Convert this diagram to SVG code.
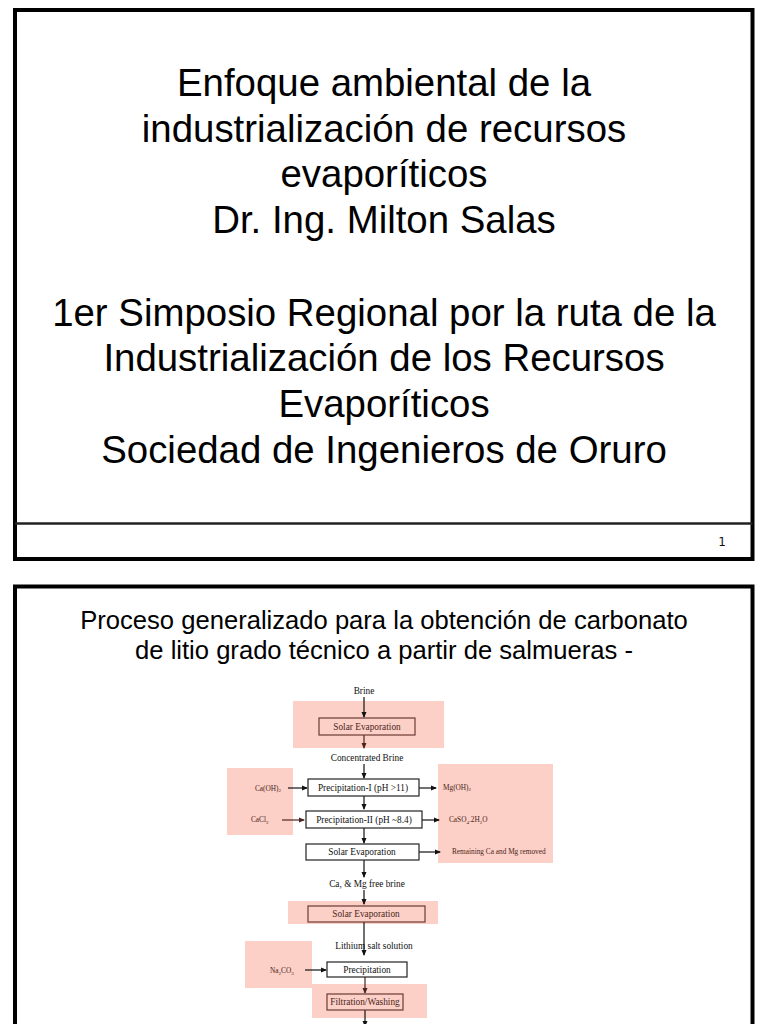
<svg xmlns="http://www.w3.org/2000/svg" width="768" height="1024" viewBox="0 0 768 1024">
<defs>
<marker id="ah" markerUnits="userSpaceOnUse" markerWidth="6" markerHeight="6" refX="5" refY="3" orient="auto"><path d="M0,0.5 L6,3 L0,5.5 Z" fill="#111"/></marker>
<marker id="ahb" markerUnits="userSpaceOnUse" markerWidth="6" markerHeight="6" refX="5" refY="3" orient="auto"><path d="M0,0.5 L6,3 L0,5.5 Z" fill="#4a2420"/></marker>
<style>
.frame{fill:#fff;stroke:#000;stroke-width:4}
.title{font-family:"Liberation Sans",Arial,sans-serif;font-size:38.4px;fill:#000;text-anchor:middle}
.t2{font-family:"Liberation Sans",Arial,sans-serif;font-size:25.6px;fill:#000;text-anchor:middle}
.pink{fill:#fcd0c6;stroke:none}
.box{fill:#fff;stroke:#222;stroke-width:1.2}
.bbox{fill:none;stroke:#6b3b35;stroke-width:1.2}
.ft{font-family:"Liberation Serif","Times New Roman",serif;font-size:9.3px;fill:#111;text-anchor:middle}
.fb{font-family:"Liberation Serif","Times New Roman",serif;font-size:9.3px;fill:#4a2420;text-anchor:middle}
.fs{font-family:"Liberation Serif","Times New Roman",serif;font-size:7.3px;fill:#4a2420}
.con{stroke:#111;stroke-width:1.2;fill:none;marker-end:url(#ah)}
.conb{stroke:#4a2420;stroke-width:1.2;fill:none;marker-end:url(#ahb)}
</style>
</defs>
<rect width="768" height="1024" fill="#fff"/>
<g id="slide1">
<rect class="frame" x="15" y="10" width="737.5" height="549"/>
<line x1="15" y1="523.5" x2="752.5" y2="523.5" stroke="#222" stroke-width="2.5"/>
<text class="title" x="384" y="96">Enfoque ambiental de la</text>
<text class="title" x="384" y="142">industrialización de recursos</text>
<text class="title" x="384" y="187">evaporíticos</text>
<text class="title" x="384" y="233">Dr. Ing. Milton Salas</text>
<text class="title" x="384" y="326">1er Simposio Regional por la ruta de la</text>
<text class="title" x="384" y="371">Industrialización de los Recursos</text>
<text class="title" x="384" y="417">Evaporíticos</text>
<text class="title" x="384" y="463">Sociedad de Ingenieros de Oruro</text>
<text x="722" y="546" font-family="'DejaVu Sans',sans-serif" font-size="12" text-anchor="middle" fill="#111">1</text>
</g>
<g id="slide2">
<rect class="frame" x="15" y="586.5" width="737.5" height="460"/>
<text class="t2" x="384" y="629">Proceso generalizado para la obtención de carbonato</text>
<text class="t2" x="384" y="659">de litio grado técnico a partir de salmueras -</text>
</g>
<g id="highlights">
<rect class="pink" x="293" y="701" width="151" height="47"/>
<rect class="pink" x="227" y="768" width="66" height="67"/>
<rect class="pink" x="438" y="764" width="115" height="99"/>
<rect class="pink" x="288" y="901" width="150" height="23"/>
<rect class="pink" x="245" y="941" width="67" height="47"/>
<rect class="pink" x="312" y="984" width="115" height="34"/>
</g>
<g id="connectors">
<line class="con" x1="364" y1="697" x2="364" y2="717"/>
<line class="conb" x1="364" y1="735" x2="364" y2="748"/>
<line class="con" x1="364" y1="764" x2="364" y2="778"/>
<line class="con" x1="288" y1="788" x2="307" y2="788"/>
<line class="con" x1="419" y1="788" x2="436" y2="788"/>
<line class="con" x1="364" y1="796" x2="364" y2="809"/>
<line class="conb" x1="282" y1="820" x2="304" y2="820"/>
<line class="con" x1="422" y1="820" x2="439" y2="820"/>
<line class="con" x1="364" y1="828" x2="364" y2="843"/>
<line class="con" x1="419" y1="852" x2="440" y2="852"/>
<line class="con" x1="364" y1="860" x2="364" y2="877"/>
<line class="con" x1="364" y1="890" x2="364" y2="904"/>
<line class="con" x1="364" y1="922" x2="364" y2="955"/>
<line class="con" x1="305" y1="970" x2="326" y2="970"/>
<line class="conb" x1="365" y1="977" x2="365" y2="993"/>
<line class="con" x1="365" y1="1010" x2="365" y2="1026"/>
</g>
<g id="brine"><text class="ft" x="364" y="694">Brine</text></g>
<g id="solar1"><rect class="bbox" x="319" y="718" width="96" height="17"/><text class="fb" x="367" y="729.5">Solar Evaporation</text></g>
<g id="conc"><text class="ft" x="367" y="761">Concentrated Brine</text></g>
<g id="caoh"><text class="fs" x="255" y="790.5">Ca(OH)<tspan font-size="5" dy="1.5">2</tspan></text></g>
<g id="prec1"><rect class="box" x="308" y="779" width="111" height="17"/><text class="ft" x="363" y="790.5">Precipitation-I (pH &gt;11)</text></g>
<g id="mgoh"><text class="fs" x="443" y="789.5">Mg(OH)<tspan font-size="5" dy="1.5">2</tspan></text></g>
<g id="cacl"><text class="fs" x="251" y="822" font-size="8">CaCl<tspan font-size="5" dy="1.5">2</tspan></text></g>
<g id="prec2"><rect class="box" x="306" y="811" width="116" height="17"/><text class="ft" x="364" y="822.5">Precipitation-II (pH ~8.4)</text></g>
<g id="caso"><text class="fs" x="449" y="822">CaSO<tspan font-size="5" dy="1.5">4</tspan><tspan dy="-1.5">.2H</tspan><tspan font-size="5" dy="1.5">2</tspan><tspan dy="-1.5">O</tspan></text></g>
<g id="solar2"><rect class="box" x="306" y="844" width="113" height="16"/><text class="ft" x="362" y="855">Solar Evaporation</text></g>
<g id="remain"><text class="fs" x="452" y="853.5">Remaining Ca and Mg removed</text></g>
<g id="free"><text class="ft" x="367" y="887">Ca, &amp; Mg free brine</text></g>
<g id="solar3"><rect class="bbox" x="308" y="906" width="117" height="16"/><text class="fb" x="366" y="917">Solar Evaporation</text></g>
<g id="lithium"><text class="ft" x="374" y="949">Lithium salt solution</text></g>
<g id="na2co3"><text class="fs" x="270" y="973" font-size="8">Na<tspan font-size="5" dy="1.5">2</tspan><tspan dy="-1.5">CO</tspan><tspan font-size="5" dy="1.5">3</tspan></text></g>
<g id="precip"><rect class="box" x="327" y="962" width="80" height="15"/><text class="ft" x="367" y="972.5">Precipitation</text></g>
<g id="filtration"><rect class="bbox" x="327" y="994" width="76" height="16"/><text class="fb" x="365" y="1005">Filtration/Washing</text></g>
</svg>
